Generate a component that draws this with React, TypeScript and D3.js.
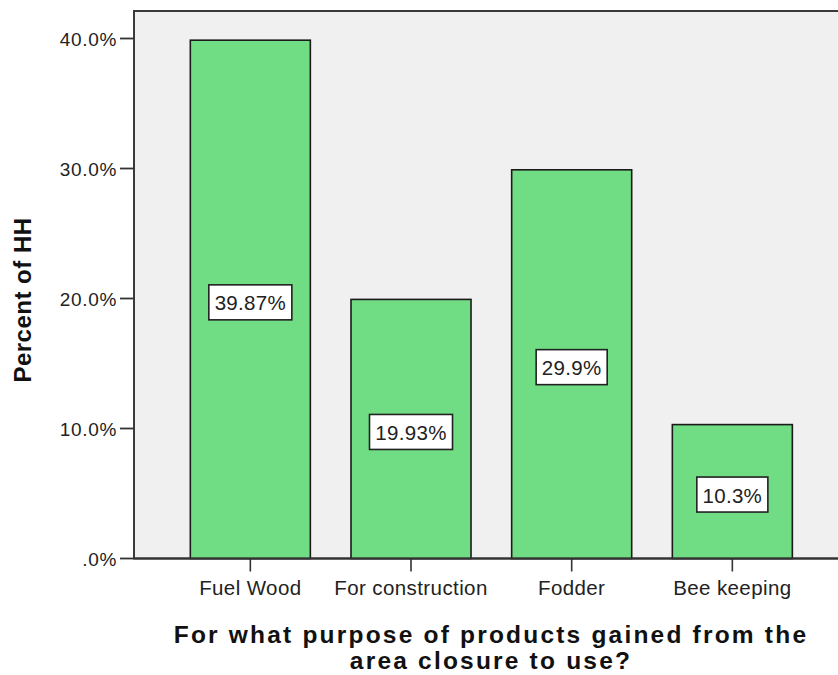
import React from "react";
import * as d3 from "d3";

const categories = ["Fuel Wood", "For construction", "Fodder", "Bee keeping"];
const values = [39.87, 19.93, 29.9, 10.3];
const valueLabels = ["39.87%", "19.93%", "29.9%", "10.3%"];
const yTicks = [0, 10, 20, 30, 40];
const yTickLabels = [".0%", "10.0%", "20.0%", "30.0%", "40.0%"];
const yTitle = "Percent of HH";
const xTitleLines = ["For what purpose of products gained from the", "area closure to use?"];

const W = 838;
const H = 675;
const plotLeft = 134;
const plotTop = 11;
const plotBottom = 558.5;
const plotRight = 850;

// approximate Arial advance widths (em) for label box sizing
const charW = (ch: string) => (ch === "." ? 0.278 : ch === "%" ? 0.889 : 0.556);
const textWidth = (s: string, size: number, ls: number) =>
  s.split("").reduce((a, c) => a + charW(c) * size + ls, 0);

export default function App() {
  const y = d3.scaleLinear().domain([0, 40]).range([plotBottom, 38.5]);
  const x = d3
    .scaleBand<string>()
    .domain(categories)
    .range([170, 170 + 4 * 160.67])
    .paddingInner(0.253)
    .paddingOuter(0.1265);
  const bw = x.bandwidth();
  const font = "'Liberation Sans', Arial, sans-serif";

  return (
    <svg
      width={W}
      height={H}
      style={{ position: "absolute", left: 0, top: 0, display: "block" }}
      fontFamily={font}
    >
      <rect x={0} y={0} width={W} height={H} fill="#ffffff" />
      <rect
        x={plotLeft}
        y={plotTop}
        width={plotRight - plotLeft}
        height={plotBottom - plotTop}
        fill="#f0f0f0"
        stroke="#3a3a3a"
        strokeWidth={2}
      />
      {categories.map((c, i) => {
        const x0 = x(c)!;
        const yv = y(values[i]);
        const cx = x0 + bw / 2;
        const cy = (yv + plotBottom) / 2 + 3;
        const lw = textWidth(valueLabels[i], 21, 0.3) + 10;
        return (
          <g key={c}>
            <rect
              x={x0}
              y={yv}
              width={bw}
              height={plotBottom - yv}
              fill="#70dc84"
              stroke="#1a1a1a"
              strokeWidth={1.6}
            />
            <rect
              x={cx - lw / 2}
              y={cy - 17.5}
              width={lw}
              height={35}
              fill="#ffffff"
              stroke="#222"
              strokeWidth={1.6}
            />
            <text
              x={cx}
              y={cy + 8}
              textAnchor="middle"
              fontSize={20.5}
              letterSpacing={0.3}
              fill="#222"
            >
              {valueLabels[i]}
            </text>
            <line x1={cx} x2={cx} y1={plotBottom} y2={plotBottom + 13} stroke="#333" strokeWidth={1.6} />
            <text
              x={cx}
              y={595}
              textAnchor="middle"
              fontSize={20.5}
              letterSpacing={0.4}
              fill="#222"
            >
              {c}
            </text>
          </g>
        );
      })}
      <line x1={plotLeft} x2={plotRight} y1={plotBottom} y2={plotBottom} stroke="#333" strokeWidth={1.8} />
      {yTicks.map((t, i) => (
        <g key={t}>
          <line x1={plotLeft - 14} x2={plotLeft} y1={y(t)} y2={y(t)} stroke="#333" strokeWidth={1.8} />
          <text
            x={plotLeft - 17}
            y={y(t) + 7}
            textAnchor="end"
            fontSize={19}
            letterSpacing={0.7}
            fill="#222"
          >
            {yTickLabels[i]}
          </text>
        </g>
      ))}
      <text
        transform={`translate(31, 300) rotate(-90)`}
        textAnchor="middle"
        fontSize={24}
        fontWeight="bold"
        letterSpacing={0.5}
        fill="#111"
      >
        {yTitle}
      </text>
      {xTitleLines.map((l, i) => (
        <text
          key={l}
          x={491}
          y={643 + i * 25.5}
          textAnchor="middle"
          fontSize={24.5}
          fontWeight="bold"
          letterSpacing={2.2}
          fill="#111"
        >
          {l}
        </text>
      ))}
    </svg>
  );
}
